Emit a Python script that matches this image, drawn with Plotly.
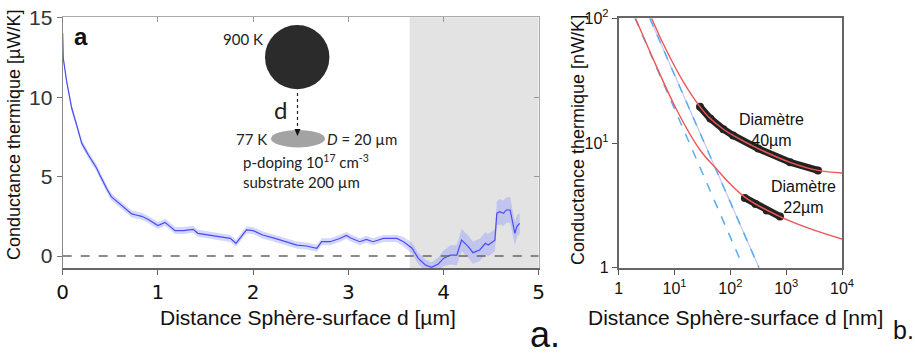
import plotly.graph_objects as go

# ---------------- data: panel a ----------------
dist_um = [0, 0.006, 0.042, 0.095, 0.147, 0.2, 0.27, 0.357, 0.39, 0.44, 0.46, 0.51, 0.62, 0.725,
           0.76, 0.83, 0.9, 0.95, 1.0, 1.075, 1.18, 1.27, 1.37, 1.42, 1.53, 1.65, 1.76, 1.82, 1.88,
           1.93, 2.0, 2.1, 2.23, 2.35, 2.46, 2.56, 2.67, 2.72, 2.81, 2.91, 2.98, 3.02, 3.12, 3.19,
           3.26, 3.37, 3.51, 3.58, 3.67, 3.735, 3.81, 3.875, 3.945, 4.0, 4.07, 4.14, 4.19, 4.26,
           4.31, 4.38, 4.44, 4.47, 4.54, 4.56, 4.59, 4.63, 4.66, 4.7, 4.73, 4.75, 4.77, 4.8]
cond_uWK = [14.03, 12.46, 10.98, 9.31, 8.25, 7.1, 6.36, 5.53, 5.1, 4.47, 4.27, 3.74, 3.21, 2.65,
            2.6, 2.5, 2.3, 2.1, 1.92, 2.12, 1.6, 1.6, 1.68, 1.43, 1.32, 1.22, 1.11, 0.8, 1.22,
            1.64, 1.6, 1.32, 1.11, 0.9, 0.69, 0.63, 0.49, 0.9, 0.9, 1.1, 1.3, 1.15, 0.9, 1.05,
            0.9, 1.11, 1.11, 0.9, 0.49, -0.15, -0.57, -0.71, -0.5, -0.15, 0.06, 0.06, 1.0, 0.59,
            0.21, 0.38, 0.8, 0.69, 1.0, 2.69, 2.79, 2.69, 2.9, 2.9, 2.06, 1.43, 1.85, 2.06]
err_uWK = [0.22] * 47 + [0.3, 0.35, 0.35, 0.35, 0.3, 0.4, 0.5, 0.6, 0.65, 0.7, 0.7, 0.7,
                         0.7, 0.7, 0.7, 0.7, 0.75, 0.8, 0.8, 0.8, 0.8, 0.8, 0.75, 0.7, 0.65]
excl_zone = [3.645, 5]

# ---------------- data: panel b ----------------
pfa40_x = [3.6, 326]
pfa40_y = [100, 1.0]
pfa22_x = [1.96, 155]
pfa22_y = [100, 1.12]
fit40_x = [3.89, 5.62, 8.91, 14.4, 19.95, 28.6, 43.7, 75.0, 112, 316, 1175, 3715, 10000]
fit40_y = [100, 69.2, 45.7, 30.9, 24.5, 19.5, 15.7, 12.9, 11.5, 9.02, 7.0, 6.03, 5.75]
fit22_x = [2.0, 4.47, 10.96, 28.6, 57.0, 100, 195, 776, 3162, 10000]
fit22_y = [100, 43.7, 18.4, 8.79, 6.17, 4.68, 3.6, 2.57, 2.0, 1.70]
meas40_x = [28.6, 43.7, 75.0, 112, 316, 1175, 3715]
meas40_y = [19.5, 15.7, 12.9, 11.5, 9.02, 7.0, 6.03]
meas22_x = [182, 282, 447, 776]
meas22_y = [3.63, 3.24, 2.88, 2.57]

W, H = 915, 356
def X(p): return p / W
def Y(p): return 1 - p / H

fig = go.Figure()

# panel a
lo = [c - e for c, e in zip(cond_uWK, err_uWK)]
hi = [c + e for c, e in zip(cond_uWK, err_uWK)]
fig.add_trace(go.Scatter(x=dist_um, y=lo, mode="lines", line=dict(width=0), hoverinfo="skip",
                         xaxis="x", yaxis="y"))
fig.add_trace(go.Scatter(x=dist_um, y=hi, mode="lines", line=dict(width=0), fill="tonexty",
                         fillcolor="rgba(120,130,255,0.32)", hoverinfo="skip", xaxis="x", yaxis="y"))
fig.add_trace(go.Scatter(x=dist_um, y=cond_uWK, mode="lines", line=dict(color="#4b4bf5", width=1.2),
                         xaxis="x", yaxis="y"))
fig.add_trace(go.Scatter(x=[0, 5], y=[0, 0], mode="lines",
                         line=dict(color="#666666", width=1.6, dash="dash"), xaxis="x", yaxis="y"))
# invisible trace for mirrored axes
fig.add_trace(go.Scatter(x=[0], y=[0], mode="markers", marker=dict(opacity=0), xaxis="x3", yaxis="y3",
                         hoverinfo="skip"))

# panel b
for mx, my in [(meas40_x, meas40_y), (meas22_x, meas22_y)]:
    fig.add_trace(go.Scatter(x=mx, y=my, mode="lines+markers", line=dict(color="#222222", width=7),
                             marker=dict(color="#222222", size=8), xaxis="x2", yaxis="y2"))
fig.add_trace(go.Scatter(x=pfa40_x, y=pfa40_y, mode="lines", line=dict(color="#c9c6ee", width=1.2),
                         xaxis="x2", yaxis="y2"))
fig.add_trace(go.Scatter(x=pfa40_x, y=pfa40_y, mode="lines", line=dict(color="#55aef0", width=1.5, dash="dash"),
                         xaxis="x2", yaxis="y2"))
fig.add_trace(go.Scatter(x=pfa22_x, y=pfa22_y, mode="lines", line=dict(color="#55aef0", width=1.5, dash="dash"),
                         xaxis="x2", yaxis="y2"))
for fx, fy in [(fit40_x, fit40_y), (fit22_x, fit22_y)]:
    fig.add_trace(go.Scatter(x=fx, y=fy, mode="lines", line=dict(color="#f05555", width=1.4, shape="spline"),
                             xaxis="x2", yaxis="y2"))

dom_ax = [X(62.7), X(538.7)]
dom_ay = [Y(268), Y(17.3)]
dom_bx = [X(618.7), X(842)]
dom_by = [Y(267.7), Y(18.3)]

common = dict(showgrid=False, zeroline=False, automargin=False, ticklabeloverflow="allow")
fig.update_layout(
    width=W, height=H, margin=dict(l=0, r=0, t=0, b=0, autoexpand=False), showlegend=False,
    paper_bgcolor="white", plot_bgcolor="white",
    font=dict(family="Arial, Liberation Sans", color="#111111"),
    xaxis=dict(domain=dom_ax, range=[0, 5], tickvals=[0, 1, 2, 3, 4, 5], ticks="outside", ticklen=5,
               tickcolor="#666", showline=True, linecolor="#666", linewidth=1.5,
               tickfont=dict(family="DejaVu Sans", size=20, color="#111"), anchor="y", **common),
    yaxis=dict(domain=dom_ay, range=[-0.756, 15.04], tickvals=[0, 5, 10, 15], ticks="outside", ticklen=5,
               tickcolor="#777", showline=True, linecolor="#888", linewidth=1.2,
               tickfont=dict(size=21, color="#333"), anchor="x", **common),
    xaxis3=dict(overlaying="x", side="top", range=[0, 5], tickvals=[1, 2, 3, 4], ticks="inside", ticklen=5,
                tickcolor="#999", showline=True, linecolor="#aaa", linewidth=1, showticklabels=False,
                anchor="y3", **common),
    yaxis3=dict(overlaying="y", side="right", range=[-0.756, 15.04], tickvals=[5, 10], ticks="inside",
                ticklen=5, tickcolor="#999", showline=True, linecolor="#aaa", linewidth=1,
                showticklabels=False, anchor="x3", **common),
    xaxis2=dict(domain=dom_bx, type="log", range=[0, 4], tickvals=[1, 10, 100, 1000, 10000],
                ticktext=["1", "10<sup>1</sup>", "10<sup>2</sup>", "10<sup>3</sup>", "10<sup>4</sup>"],
                ticks="outside", ticklen=5, tickcolor="#555", showline=True, mirror=True,
                linecolor="#666", linewidth=1.8, tickfont=dict(size=16, color="#111"), anchor="y2",
                **common),
    yaxis2=dict(domain=dom_by, type="log", range=[0, 2], tickvals=[1, 10, 100],
                ticktext=["1", "10<sup>1</sup>", "10<sup>2</sup>"], ticks="outside", ticklen=5,
                tickcolor="#555", showline=True, mirror=True, linecolor="#666", linewidth=1.8,
                tickfont=dict(size=16, color="#111"), anchor="x2", **common),
)

fig.add_shape(type="rect", xref="x", yref="y domain", x0=excl_zone[0], x1=excl_zone[1], y0=0, y1=1,
              fillcolor="#e3e3e3", line=dict(width=0), layer="below")

# inset drawing
fig.add_shape(type="circle", xref="paper", yref="paper", x0=X(265), x1=X(329.4), y0=Y(89.3), y1=Y(25),
              fillcolor="#2b2b2b", line=dict(width=0))
fig.add_shape(type="circle", xref="paper", yref="paper", x0=X(271), x1=X(325), y0=Y(147.4), y1=Y(130),
              fillcolor="#a3a3a3", line=dict(width=0))
fig.add_shape(type="line", xref="paper", yref="paper", x0=X(297.5), x1=X(297.5), y0=Y(93), y1=Y(130),
              line=dict(color="#222", width=1.2, dash="dot"))
fig.add_shape(type="path", xref="paper", yref="paper",
              path=f"M {X(294.5)},{Y(129)} L {X(300.5)},{Y(129)} L {X(297.5)},{Y(136)} Z",
              fillcolor="#111", line=dict(width=0))

ann = []
def A(text, x, y, size, xanchor="center", angle=0, family=None, color="#111"):
    d = dict(text=text, x=X(x), y=Y(y), xref="paper", yref="paper", showarrow=False,
             xanchor=xanchor, yanchor="middle", textangle=angle, font=dict(size=size, color=color))
    if family:
        d["font"]["family"] = family
    ann.append(d)

A("Conductance thermique [µW/K]", 14, 135, 18, angle=-90)
A("Distance Sphère-surface d [µm]", 308, 317, 21)
A("Conductance thermique [nW/K]", 578, 140, 18, angle=-90)
A("Distance Sphère-surface d [nm]", 735, 317, 21)
A("a.", 545, 334, 36)
A("b.", 891, 330, 25, xanchor="left")
A("<b>a</b>", 81, 36, 24)
A("Diamètre<br>40µm", 771, 130, 16)
A("Diamètre<br>22µm", 803, 197, 16)
lato = "Lato, Open Sans"
A("900 K", 243, 39, 15, family=lato, color="#222")
A("d", 280, 109, 24, family=lato, color="#222")
A("77 K", 251, 139, 15, family=lato, color="#222")
A("<i>D</i> = 20 µm", 325, 139, 15, xanchor="left", family=lato, color="#222")
A("p-doping 10<sup>17</sup> cm<sup>-3</sup>", 241, 161, 15, xanchor="left", family=lato, color="#222")
A("substrate 200 µm", 241, 182, 15, xanchor="left", family=lato, color="#222")
fig.update_layout(annotations=ann)

fig.write_html("out.html", config={"displayModeBar": False},
               post_script="document.body.style.margin='0';document.body.style.overflow='hidden';")
